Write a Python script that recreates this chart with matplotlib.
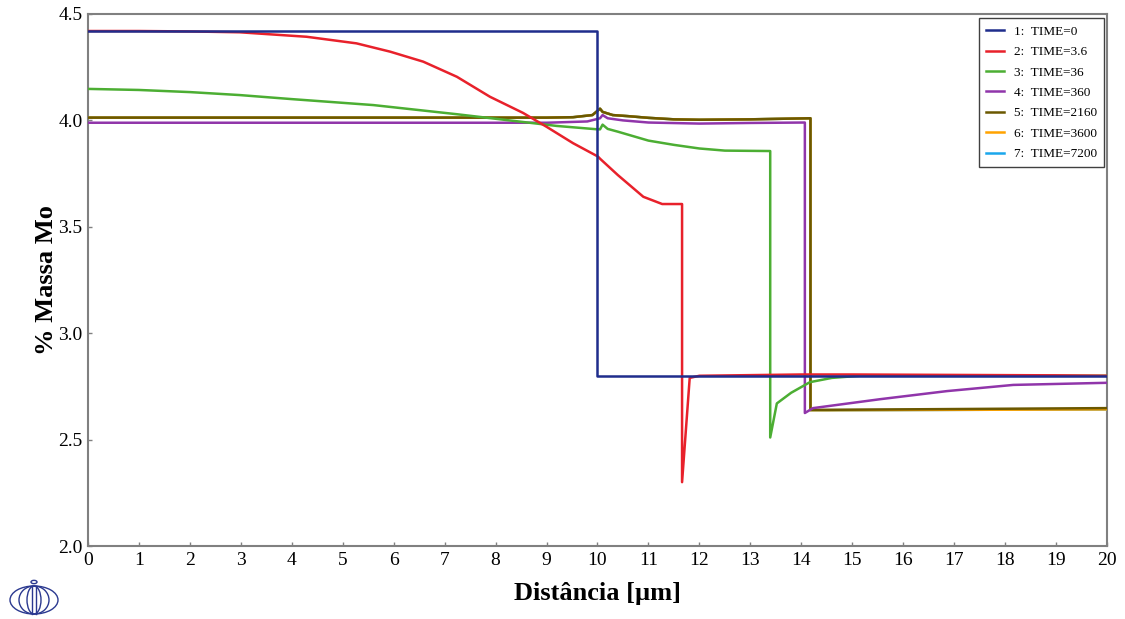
import matplotlib.pyplot as plt
from matplotlib.patches import Ellipse, Circle

plt.rcParams['font.family'] = ['Liberation Serif', 'DejaVu Serif']

# TIME=0
x_t0 = [0, 10, 10, 20]
y_t0 = [4.42, 4.42, 2.80, 2.80]

# TIME=3.6
x_t36a = [0, 1, 2, 2.98, 4.29, 5.27, 5.93, 6.58, 7.24, 7.89, 8.54, 9.0, 9.52, 10.01,
          10.05, 10.4, 10.9, 11.27, 11.66, 11.66, 11.81, 12, 13, 14, 15, 16, 17, 18, 19, 20]
y_t36a = [4.42, 4.42, 4.418, 4.414, 4.393, 4.362, 4.323, 4.276, 4.205, 4.111, 4.035,
          3.97, 3.893, 3.83, 3.82, 3.743, 3.641, 3.607, 3.607, 2.30, 2.79, 2.80, 2.803,
          2.806, 2.806, 2.805, 2.804, 2.803, 2.802, 2.80]

# TIME=36
x_t36 = [0, 1, 2, 2.98, 4, 5.6, 7.24, 8.2, 9.2, 10.0, 10.05, 10.1, 10.2, 10.4, 11, 11.5,
         12, 12.5, 13.39, 13.39, 13.52, 13.8, 14.17, 14.6, 15.15, 20]
y_t36 = [4.148, 4.143, 4.133, 4.119, 4.10, 4.072, 4.029, 4.002, 3.974, 3.958, 3.958,
         3.98, 3.96, 3.947, 3.905, 3.885, 3.868, 3.858, 3.856, 2.51, 2.67, 2.72, 2.77,
         2.79, 2.80, 2.80]

# TIME=360
x_t360 = [0, 9, 9.8, 10.05, 10.1, 10.2, 10.5, 11, 12, 13, 14.07, 14.07, 14.23, 15.55,
          16.86, 18.16, 20]
y_t360 = [3.989, 3.989, 3.995, 4.01, 4.025, 4.01, 4.0, 3.99, 3.985, 3.988, 3.99, 2.625,
          2.648, 2.69, 2.728, 2.757, 2.767]

# TIME=2160
x_t2160 = [0, 9, 9.52, 9.9, 10.05, 10.1, 10.3, 10.6, 11, 11.5, 12, 13, 14.18, 14.18,
           14.5, 20]
y_t2160 = [4.013, 4.013, 4.015, 4.025, 4.055, 4.04, 4.025, 4.02, 4.012, 4.005, 4.003,
           4.005, 4.01, 2.64, 2.64, 2.648]

# TIME=3600 / TIME=7200 (almost on top of TIME=2160)
x_t3600 = x_t2160
y_t3600 = [4.013, 4.013, 4.015, 4.025, 4.055, 4.04, 4.025, 4.02, 4.012, 4.005, 4.003,
           4.005, 4.01, 2.638, 2.638, 2.642]
x_t7200 = x_t3600
y_t7200 = y_t3600

series = [
    (x_t0, y_t0, '#1f2d8c', '1:  TIME=0'),
    (x_t36a, y_t36a, '#e8212b', '2:  TIME=3.6'),
    (x_t36, y_t36, '#4cae33', '3:  TIME=36'),
    (x_t360, y_t360, '#9035aa', '4:  TIME=360'),
    (x_t2160, y_t2160, '#6b5800', '5:  TIME=2160'),
    (x_t3600, y_t3600, '#ffa300', '6:  TIME=3600'),
    (x_t7200, y_t7200, '#1aa7ec', '7:  TIME=7200'),
]

fig = plt.figure(figsize=(11.25, 6.19), dpi=100)
ax = fig.add_axes([0.0782, 0.1179, 0.9058, 0.8595])

n = len(series)
for i, (xs, ys, c, lab) in enumerate(series):
    ax.plot(xs, ys, color=c, lw=1.8, label=lab, zorder=10 + n - i)

ax.set_xlim(0, 20)
ax.set_ylim(2.0, 4.5)
ax.set_xticks(range(0, 21))
ax.set_yticks([2.0, 2.5, 3.0, 3.5, 4.0, 4.5])
ax.set_yticklabels(['2.0', '2.5', '3.0', '3.5', '4.0', '4.5'])
ax.tick_params(direction='in', length=3, width=1, color='#808080', labelsize=14, pad=4)
for s in ax.spines.values():
    s.set_color('#808080')
    s.set_linewidth(1.5)

ax.set_xlabel('Distância [µm]', fontsize=19, fontweight='bold', labelpad=10)
ax.set_ylabel('% Massa Mo', fontsize=19, fontweight='bold', labelpad=0)

leg = ax.legend(loc='upper right', bbox_to_anchor=(0.997, 0.992), borderaxespad=0,
                fontsize=9.5, fancybox=False, framealpha=1, handlelength=1.4,
                labelspacing=0.62, borderpad=0.55, handletextpad=0.7)
leg.get_frame().set_edgecolor('#404040')
leg.get_frame().set_linewidth(1.0)
leg.set_zorder(30)

# logo
W, H = 1125, 619
logo_c = '#2b3990'
cx, cy = 34 / W, 1 - 600 / H
fig.patches.append(Ellipse((cx, cy), 48 / W, 28 / H, transform=fig.transFigure,
                           fill=False, ec=logo_c, lw=1))
fig.patches.append(Ellipse((cx, cy), 30 / W, 28 / H, transform=fig.transFigure,
                           fill=False, ec=logo_c, lw=1))
fig.patches.append(Ellipse((cx, cy), 14 / W, 28 / H, transform=fig.transFigure,
                           fill=False, ec=logo_c, lw=1))
fig.lines.append(plt.Line2D([32 / W, 32 / W], [1 - 586 / H, 1 - 614 / H],
                            transform=fig.transFigure, color=logo_c, lw=1))
fig.lines.append(plt.Line2D([36 / W, 36 / W], [1 - 586 / H, 1 - 614 / H],
                            transform=fig.transFigure, color=logo_c, lw=1))
fig.patches.append(Circle((cx, 1 - 582 / H), 3 / W, transform=fig.transFigure,
                          fill=False, ec=logo_c, lw=1))

fig.savefig('out.png', dpi=100)
